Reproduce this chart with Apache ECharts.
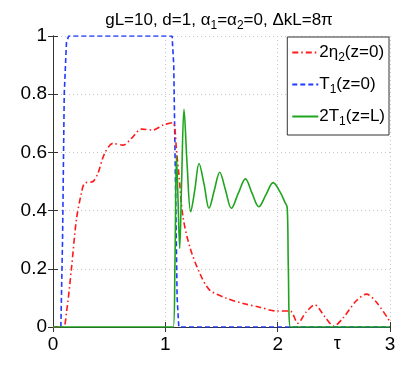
<!DOCTYPE html>
<html>
<head>
<meta charset="utf-8">
<script src="https://cdn.jsdelivr.net/npm/echarts@6/dist/echarts.min.js"></script>
<style>
  html, body { margin: 0; padding: 0; background: #fff; }
  #chart { width: 407px; height: 367px; }
</style>
</head>
<body>
<div id="chart"></div>
<script>
// curve samples: [tau, value]
var eta2 = [[0,0],[0.09,0],[0.12,0.05],[0.163,0.196],[0.208,0.368],[0.252,0.459],[0.282,0.494],[0.356,0.5],[0.40,0.528],[0.46,0.597],[0.534,0.631],[0.623,0.625],[0.698,0.648],[0.787,0.680],[0.89,0.677],[0.98,0.694],[1.068,0.702],[1.085,0.68],[1.099,0.608],[1.12,0.528],[1.157,0.379],[1.217,0.276],[1.306,0.185],[1.395,0.127],[1.544,0.099],[1.692,0.081],[1.84,0.068],[1.99,0.055],[2.11,0.055],[2.18,0.013],[2.25,0.05],[2.33,0.076],[2.42,0.035],[2.50,0.003],[2.58,0.03],[2.7,0.09],[2.79,0.113],[2.88,0.085],[3.0,0.018]];
var t1In = [[0,0],[0.07,0],[0.085,0.3],[0.1,0.8],[0.12,0.98],[0.14,1],[1.06,1],[1.075,0.9],[1.09,0.5],[1.105,0.1],[1.12,0],[3,0]];
var t1Out = [[0,0],[1.07,0],[1.085,0.2],[1.099,0.59],[1.112,0.45],[1.128,0.27],[1.145,0.5],[1.166,0.748],[1.195,0.55],[1.226,0.396],[1.262,0.47],[1.30,0.562],[1.345,0.49],[1.389,0.408],[1.436,0.47],[1.484,0.532],[1.536,0.47],[1.588,0.408],[1.65,0.46],[1.713,0.509],[1.772,0.46],[1.832,0.413],[1.896,0.455],[1.96,0.496],[2.02,0.465],[2.063,0.43],[2.085,0.41],[2.095,0.2],[2.114,0],[3,0]];
var xTicks = [0, 1, 2, 3];
var yTicks = [0, 0.2, 0.4, 0.6, 0.8, 1];
var names = ["2η2(z=0)", "T1(z=0)", "2T1(z=L)"];
var legendText = {
  "2η2(z=0)": "2η{s|2}(z=0)",
  "T1(z=0)": "T{s|1}(z=0)",
  "2T1(z=L)": "2T{s|1}(z=L)"
};

var font = "Liberation Sans";
var boxLine = { show: true, lineStyle: { color: "#333", width: 1 } };
var inTick = { show: true, inside: true, length: 5, lineStyle: { color: "#333" } };
var dotted = { show: true, lineStyle: { color: "#c8c8c8", type: [1, 3], width: 1 } };

var myChart = echarts.init(document.getElementById("chart"));
var option = {
  animation: false,
  title: {
    text: "gL=10, d=1, α{s|1}=α{s|2}=0, ΔkL=8π",
    left: 214,
    top: 4,
    textAlign: "center",
    textStyle: {
      fontFamily: font,
      fontSize: 17,
      fontWeight: "normal",
      color: "#000",
      rich: {
        s: { fontSize: 12, fontFamily: font, padding: [11, 0, 0, 0] }
      }
    }
  },
  grid: { left: 53, right: 17, top: 36, bottom: 40 },
  legend: {
    orient: "vertical",
    right: 18,
    top: 37,
    data: names,
    backgroundColor: "#fff",
    borderColor: "#333",
    borderWidth: 1,
    borderRadius: 0,
    padding: [7, 4, 7, 4],
    itemGap: 12,
    itemWidth: 26,
    itemHeight: 14,
    itemStyle: { color: "rgba(0,0,0,0)", borderWidth: 0, opacity: 0 },
    formatter: function (name) {
      return legendText[name];
    },
    textStyle: {
      fontFamily: font,
      fontSize: 17,
      color: "#000",
      padding: [0, 0, 0, -4],
      rich: {
        s: { fontSize: 12, fontFamily: font, padding: [11, 0, 0, 0] }
      }
    }
  },
  xAxis: [
    {
      type: "value",
      min: 0,
      max: 3,
      interval: 1,
      axisLine: boxLine,
      axisTick: inTick,
      splitLine: dotted,
      axisLabel: { fontFamily: font, fontSize: 19, color: "#000", margin: 8 }
    },
    {
      type: "value",
      position: "top",
      min: 0,
      max: 3,
      interval: 1,
      axisLine: boxLine,
      axisTick: inTick,
      splitLine: { show: false },
      axisLabel: { show: false }
    }
  ],
  yAxis: [
    {
      type: "value",
      min: 0,
      max: 1,
      interval: 0.2,
      axisLine: boxLine,
      axisTick: inTick,
      splitLine: dotted,
      axisLabel: {
        fontFamily: font,
        fontSize: 19,
        color: "#000",
        margin: 6,
        formatter: function (v) {
          return yTicks.indexOf(v) >= 0 ? String(+v.toFixed(1)) : "";
        }
      }
    },
    {
      type: "value",
      position: "right",
      min: 0,
      max: 1,
      interval: 0.2,
      axisLine: boxLine,
      axisTick: inTick,
      splitLine: { show: false },
      axisLabel: { show: false }
    }
  ],
  series: [
    {
      name: names[0],
      type: "line",
      data: eta2,
      symbol: "none",
      smooth: 0.3,
      color: "#ff1a1a",
      lineStyle: { width: 1.6, type: [6, 3, 1.5, 3] },
      z: 3
    },
    {
      name: names[1],
      type: "line",
      data: t1In,
      symbol: "none",
      color: "#1f3bff",
      lineStyle: { width: 1.6, type: [5, 3] },
      z: 2
    },
    {
      name: names[2],
      type: "line",
      data: t1Out,
      symbol: "none",
      smooth: 0.35,
      color: "#1ea51e",
      lineStyle: { width: 1.6 },
      z: 4
    }
  ]
};
myChart.setOption(option);

// x label "tau" sits between the 2 and 3 ticks, like the original
var tauPos = myChart.convertToPixel({ gridIndex: 0 }, [2.53, 0]);
myChart.setOption({
  graphic: [
    {
      type: "text",
      x: tauPos[0],
      y: tauPos[1] + 8,
      style: {
        text: "τ",
        fontFamily: font,
        fontSize: 18,
        fill: "#000",
        align: "center",
        verticalAlign: "top"
      }
    }
  ]
});
</script>
</body>
</html>
